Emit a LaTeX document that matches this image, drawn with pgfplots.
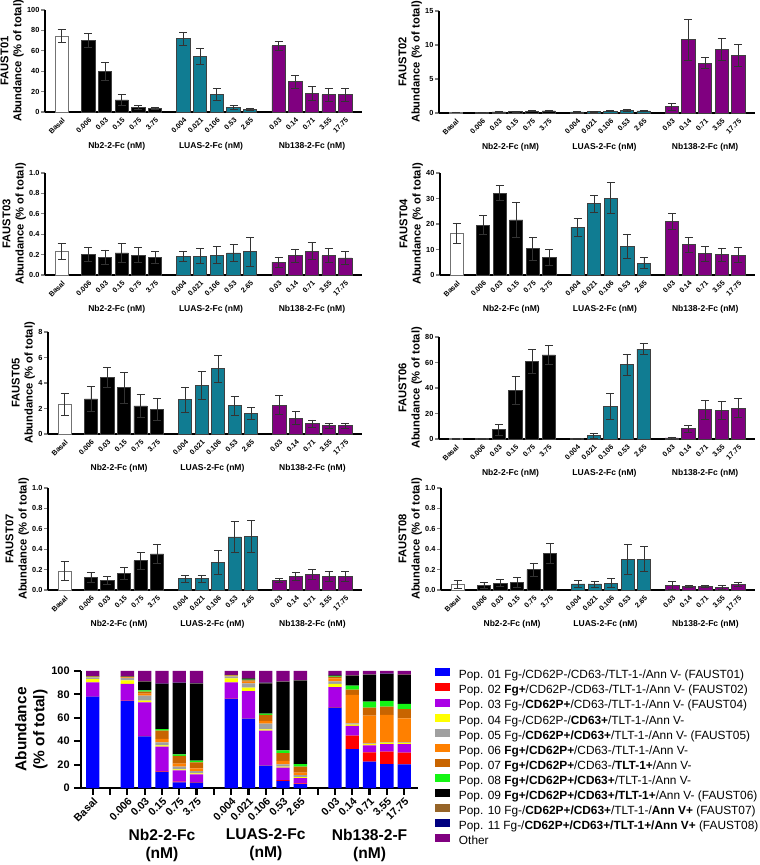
\documentclass[border=0pt]{standalone}
\usepackage{pgfplots}
\pgfplotsset{compat=1.18}
\usepackage{pgfplotstable}
\usepackage{fontspec}
\setmainfont{Liberation Sans}

% bar colours of the single-population panels
\definecolor{luas}{RGB}{16,124,146}
\definecolor{nbpurple}{RGB}{128,0,128}
% population colours of the stacked chart
\definecolor{p01}{RGB}{0,0,255}
\definecolor{p02}{RGB}{255,0,0}
\definecolor{p03}{RGB}{170,0,230}
\definecolor{p04}{RGB}{255,255,0}
\definecolor{p05}{RGB}{160,160,160}
\definecolor{p06}{RGB}{255,128,0}
\definecolor{p07}{RGB}{200,100,0}
\definecolor{p08}{RGB}{20,245,20}
\definecolor{p09}{RGB}{0,0,0}
\definecolor{p10}{RGB}{150,100,40}
\definecolor{p11}{RGB}{0,0,128}
\definecolor{oth}{RGB}{128,0,128}

% x: slot position, y: mean abundance, e: SD
\pgfplotstableread{
x y e
0 74.3 6.4
1.6 70.1 6.5
2.6 40.1 8.9
3.6 11.8 5.6
4.6 4.6 2.0
5.6 3.6 1.0
7.3 71.7 6.3
8.3 54.6 8.2
9.3 17.4 6.0
10.3 4.6 2.0
11.3 2.6 1.0
13 64.8 4.9
14 29.6 6.6
15 18.4 6.6
16 17.1 6.3
17 17.1 6.3
}\tA
\pgfplotstableread{
x y e
0 0.1 0.05
1.6 0.1 0.04
2.6 0.15 0.05
3.6 0.18 0.06
4.6 0.28 0.08
5.6 0.3 0.12
7.3 0.15 0.05
8.3 0.2 0.06
9.3 0.25 0.06
10.3 0.42 0.12
11.3 0.3 0.08
13 0.9 0.45
14 10.8 3.0
15 7.35 0.8
16 9.4 1.6
17 8.5 1.6
}\tB
\pgfplotstableread{
x y e
0 0.232 0.08
1.6 0.203 0.07
2.6 0.176 0.07
3.6 0.216 0.09
4.6 0.196 0.07
5.6 0.170 0.06
7.3 0.183 0.05
8.3 0.186 0.07
9.3 0.196 0.08
10.3 0.216 0.08
11.3 0.229 0.14
13 0.127 0.05
14 0.190 0.065
15 0.235 0.085
16 0.190 0.068
17 0.167 0.068
}\tC
\pgfplotstableread{
x y e
0 16.4 4.0
1.6 19.5 3.7
2.6 32.1 2.9
3.6 21.6 6.9
4.6 10.3 4.6
5.6 7.0 3.1
7.3 18.8 3.5
8.3 27.9 3.5
9.3 30.1 6.1
10.3 11.3 4.8
11.3 4.7 2.1
13 21.0 3.0
14 11.9 3.0
15 8.3 3.0
16 7.9 2.7
17 7.8 2.9
}\tD
\pgfplotstableread{
x y e
0 2.35 0.87
1.6 2.75 1.0
2.6 4.42 0.8
3.6 3.63 1.2
4.6 2.2 0.9
5.6 1.93 0.84
7.3 2.69 1.0
8.3 3.84 1.1
9.3 5.12 1.05
10.3 2.22 0.76
11.3 1.62 0.47
13 2.27 0.76
14 1.25 0.52
15 0.81 0.29
16 0.65 0.21
17 0.65 0.21
}\tE
\pgfplotstableread{
x y e
0 0.1 0.1
1.6 0.1 0.1
2.6 7.3 4.2
3.6 38.3 11.0
4.6 60.7 9.4
5.6 65.9 7.3
7.3 0.1 0.1
8.3 2.6 1.8
9.3 25.3 10.1
10.3 58.4 8.3
11.3 70.4 4.4
13 0.8 0.8
14 8.1 2.6
15 22.9 7.3
16 22.4 7.0
17 24.2 7.6
}\tF
\pgfplotstableread{
x y e
0 0.186 0.095
1.6 0.124 0.05
2.6 0.092 0.04
3.6 0.163 0.062
4.6 0.288 0.082
5.6 0.353 0.092
7.3 0.111 0.033
8.3 0.111 0.035
9.3 0.271 0.12
10.3 0.52 0.156
11.3 0.526 0.16
13 0.095 0.023
14 0.134 0.043
15 0.15 0.05
16 0.137 0.049
17 0.137 0.049
}\tG
\pgfplotstableread{
x y e
0 0.055 0.043
1.6 0.049 0.03
2.6 0.068 0.036
3.6 0.075 0.049
4.6 0.2 0.065
5.6 0.358 0.1
7.3 0.059 0.035
8.3 0.059 0.03
9.3 0.068 0.042
10.3 0.3 0.15
11.3 0.303 0.12
13 0.046 0.042
14 0.036 0.013
15 0.039 0.01
16 0.029 0.02
17 0.052 0.02
}\tH

% stacked composition, % of total, bottom (Pop. 01) to top (Other)
\pgfplotstableread{
x p01 p02 p03 p04 p05 p06 p07 p08 p09 p10 p11 oth
0 78 0.2 12 2.8 1.5 0.5 0.2 0.1 0.1 0.2 0.05 4.35
2 74.4 0.2 14.3 3.1 2.0 0.6 0.3 0.1 0.1 0.2 0.05 4.65
3 44.2 0.3 28.7 1.4 4.3 1.7 1.7 1.2 7.4 0.2 0.1 8.8
4 13.7 0.5 21.1 1.2 2.5 2.9 7.1 1.4 38.5 0.2 0.2 10.7
5 4.8 0.6 9.7 0.9 2.2 2.6 6.6 1.4 60.9 0.2 0.2 9.9
6 4.6 0.4 6.7 0.8 2.0 2.3 5.1 1.5 65.8 0.2 0.4 10.2
8 76.1 0.2 14.0 3.4 1.8 0.5 0.3 0.1 0.1 0.2 0.05 3.25
9 59.3 0.3 23.3 2.9 3.7 1.4 1.1 0.6 1.1 0.2 0.1 6.0
10 19.1 0.3 29.6 1.1 4.9 2.3 5.1 1.1 26.0 0.3 0.2 10.0
11 6.0 0.8 10.6 0.8 2.0 2.9 6.8 2.3 58.5 0.2 0.2 8.9
12 3.4 0.5 4.6 0.9 1.7 2.0 5.1 2.3 71.2 0.2 0.2 7.9
14 68.8 0.4 17.0 2.8 2.2 2.5 1.2 0.6 0.8 0.2 0.1 3.4
15 33.3 11.4 8.3 1.2 1.0 24.5 4.3 3.4 8.6 0.2 0.1 3.7
16 22.5 8.0 6.0 1.1 0.6 23.6 6.9 5.1 22.8 0.3 0.2 2.9
17 20.5 10.6 6.5 1.1 0.6 23.1 7.1 4.9 23.0 0.2 0.1 2.3
18 20.2 10.0 7.4 0.9 0.5 20.5 8.0 4.3 24.8 0.2 0.1 3.1
}\tS

\tikzset{
  grp/.style={font=\bfseries\fontsize{6.4}{7}\selectfont, yshift=-25.5pt},
  grpbig/.style={align=center, font=\bfseries\fontsize{11.7}{13.5}\selectfont, yshift=-42.75pt},
}
\pgfplotsset{
  panel/.style={
    scale only axis, anchor=south west, height=76.5pt,
    xmin=-1, xmax=18, ymin=0,
    axis lines*=left, axis line style={line width=0.8pt},
    tick align=outside, tick pos=left, clip=false,
    xtick={0,1.6,2.6,3.6,4.6,5.6,7.3,8.3,9.3,10.3,11.3,13,14,15,16,17},
    xticklabels={Basal,0.006,0.03,0.15,0.75,3.75,0.004,0.021,0.106,0.53,2.65,0.03,0.14,0.71,3.55,17.75},
    x tick style={draw=none},
    extra x ticks={0.8,6.45,12.15},
    extra x tick labels={},
    extra x tick style={tick style={draw=black,line width=0.8pt}},
    major tick length=3pt,
    ytick style={line width=0.8pt},
    xticklabel style={rotate=45, anchor=north east, inner sep=0.5pt,
      font=\bfseries\fontsize{5.4}{6}\selectfont},
    yticklabel style={font=\bfseries\fontsize{5.5}{6}\selectfont, inner sep=1pt},
    /pgf/number format/assume math mode=true,
    ylabel shift=-2pt,
    ylabel style={align=center, font=\bfseries\fontsize{8.4}{9.8}\selectfont},
  },
  dec/.style={yticklabel style={/pgf/number format/fixed,
      /pgf/number format/fixed zerofill, /pgf/number format/precision=1}},
  bars/.style={ybar, bar width=0.8, bar shift=0pt, draw=black!75, line width=0.6pt,
    error bars/y dir=both, error bars/y explicit,
    error bars/error bar style={line width=0.6pt, black!80},
    error bars/error mark options={rotate=90, mark size=3pt, line width=0.6pt, black!80}},
  swatch/.style={legend image code/.code={\fill[##1] (0pt,-0.3pt) rectangle (11.5pt,5.7pt);}},
}

% one panel: white basal bar, then the three nanobody dilution series
\newcommand\groups[1]{%
  \addplot[bars, fill=white, draw=black!55, restrict x to domain=-0.5:0.5] table[x=x,y=y,y error=e]{#1};
  \addplot[bars, fill=black, restrict x to domain=1:6] table[x=x,y=y,y error=e]{#1};
  \addplot[bars, fill=luas, restrict x to domain=7:12] table[x=x,y=y,y error=e]{#1};
  \addplot[bars, fill=nbpurple, restrict x to domain=12.5:17.5] table[x=x,y=y,y error=e]{#1};
  \node[grp] at (axis cs:3.3,0) {Nb2-2-Fc (nM)};
  \node[grp] at (axis cs:8.95,0) {LUAS-2-Fc (nM)};
  \node[grp] at (axis cs:15,0) {Nb138-2-Fc (nM)};
}

\begin{document}
\begin{tikzpicture}
\useasboundingbox (0,0) rectangle (570pt,648.75pt);

\begin{axis}[panel, at={(33.75pt,564.75pt)}, width=237.75pt, ymax=100, ytick={0,20,...,100},
  ylabel={FAUST01\\Abundance (\% of total)}]
\groups{\tA}
\end{axis}
\begin{axis}[panel, at={(329.25pt,564pt)}, width=237pt, ymax=15, ytick={0,5,10,15},
  ylabel={FAUST02\\Abundance (\% of total)}]
\groups{\tB}
\end{axis}

\begin{axis}[panel, dec, at={(33.75pt,442.5pt)}, width=237.75pt, ymax=1, ytick={0,0.2,0.4,0.6,0.8,1.0},
  ylabel={FAUST03\\Abundance (\% of total)}]
\groups{\tC}
\end{axis}
\begin{axis}[panel, at={(330pt,442.5pt)}, width=236.25pt, ymax=40, ytick={0,10,...,40},
  ylabel={FAUST04\\Abundance (\% of total)}]
\groups{\tD}
\end{axis}

\begin{axis}[panel, at={(36pt,323.25pt)}, width=235.5pt, ymax=8, ytick={0,2,...,8},
  ylabel={FAUST05\\Abundance (\% of total)}]
\groups{\tE}
\end{axis}
\begin{axis}[panel, at={(329.25pt,319.5pt)}, width=237pt, ymax=80, ytick={0,20,...,80},
  ylabel={FAUST06\\Abundance (\% of total)}]
\groups{\tF}
\end{axis}

\begin{axis}[panel, dec, at={(36pt,206.25pt)}, width=235.5pt, ymax=1, ytick={0,0.2,0.4,0.6,0.8,1.0},
  ylabel={FAUST07\\Abundance (\% of total)}]
\groups{\tG}
\end{axis}
\begin{axis}[panel, dec, at={(330.75pt,206.25pt)}, width=235.5pt, ymax=1, ytick={0,0.2,0.4,0.6,0.8,1.0},
  ylabel={FAUST08\\Abundance (\% of total)}]
\groups{\tH}
\end{axis}

% population composition
\begin{axis}[scale only axis, anchor=south west, at={(60.75pt,57.75pt)},
  width=252.75pt, height=87.75pt,
  xmin=-0.68, xmax=18.8, ymin=0, ymax=100, ytick={0,20,...,100},
  ybar stacked, bar width=0.77,
  every axis plot post/.append style={swatch},
  axis lines*=left, axis line style={line width=1.6pt},
  tick align=outside, tick pos=left, clip=false,
  xtick={0,...,18},
  xticklabels={Basal,,0.006,0.03,0.15,0.75,3.75,,0.004,0.021,0.106,0.53,2.65,,0.03,0.14,0.71,3.55,17.75},
  major tick length=5pt, tick style={line width=1.6pt, black},
  xticklabel style={rotate=45, anchor=north east, inner sep=1pt,
    font=\bfseries\fontsize{8}{9}\selectfont},
  yticklabel style={font=\bfseries\fontsize{8.2}{9}\selectfont},
  /pgf/number format/assume math mode=true,
  ylabel={Abundance\\(\% of total)},
  ylabel shift=-4pt,
  ylabel style={align=center, font=\bfseries\fontsize{11.6}{13.5}\selectfont},
  legend cell align=left,
  legend style={at={(1.0504,1.022)}, anchor=north west, draw=none, fill=none,
    inner sep=0pt, outer sep=0pt, row sep=1.4pt, column sep=6.5pt,
    font=\fontsize{8.9}{10}\selectfont,
    nodes={inner sep=0pt, text height=6.3pt, text depth=2.1pt}},
]
\addplot[fill=p01, draw=none] table[x=x,y=p01]{\tS};
\addlegendentry{Pop. 01 Fg-/CD62P-/CD63-/TLT-1-/Ann V- (FAUST01)}
\addplot[fill=p02, draw=none] table[x=x,y=p02]{\tS};
\addlegendentry{Pop. 02 \textbf{Fg+}/CD62P-/CD63-/TLT-1-/Ann V- (FAUST02)}
\addplot[fill=p03, draw=none] table[x=x,y=p03]{\tS};
\addlegendentry{Pop. 03 Fg-/\textbf{CD62P+}/CD63-/TLT-1-/Ann V- (FAUST04)}
\addplot[fill=p04, draw=none] table[x=x,y=p04]{\tS};
\addlegendentry{Pop. 04 Fg-/CD62P-/\textbf{CD63+}/TLT-1-/Ann V-}
\addplot[fill=p05, draw=none] table[x=x,y=p05]{\tS};
\addlegendentry{Pop. 05 Fg-/\textbf{CD62P+/CD63+}/TLT-1-/Ann V- (FAUST05)}
\addplot[fill=p06, draw=none] table[x=x,y=p06]{\tS};
\addlegendentry{Pop. 06 \textbf{Fg+/CD62P+}/CD63-/TLT-1-/Ann V-}
\addplot[fill=p07, draw=none] table[x=x,y=p07]{\tS};
\addlegendentry{Pop. 07 \textbf{Fg+/CD62P+}/CD63-/\textbf{TLT-1+}/Ann V-}
\addplot[fill=p08, draw=none] table[x=x,y=p08]{\tS};
\addlegendentry{Pop. 08 \textbf{Fg+/CD62P+/CD63+}/TLT-1-/Ann V-}
\addplot[fill=p09, draw=none] table[x=x,y=p09]{\tS};
\addlegendentry{Pop. 09 \textbf{Fg+/CD62P+/CD63+/TLT-1+}/Ann V- (FAUST06)}
\addplot[fill=p10, draw=none] table[x=x,y=p10]{\tS};
\addlegendentry{Pop. 10 Fg-/\textbf{CD62P+/CD63+}/TLT-1-/\textbf{Ann V+} (FAUST07)}
\addplot[fill=p11, draw=none] table[x=x,y=p11]{\tS};
\addlegendentry{Pop. 11 Fg-/\textbf{CD62P+/CD63+/TLT-1+/Ann V+} (FAUST08)}
\addplot[fill=oth, draw=none] table[x=x,y=oth]{\tS};
\addlegendentry{Other}
\node[grpbig] at (axis cs:4,0) {Nb2-2-Fc\\(nM)};
\node[grpbig] at (axis cs:10,0) {LUAS-2-Fc\\(nM)};
\node[grpbig] at (axis cs:16,0) {Nb138-2-F\\(nM)};
\end{axis}
\end{tikzpicture}
\end{document}
